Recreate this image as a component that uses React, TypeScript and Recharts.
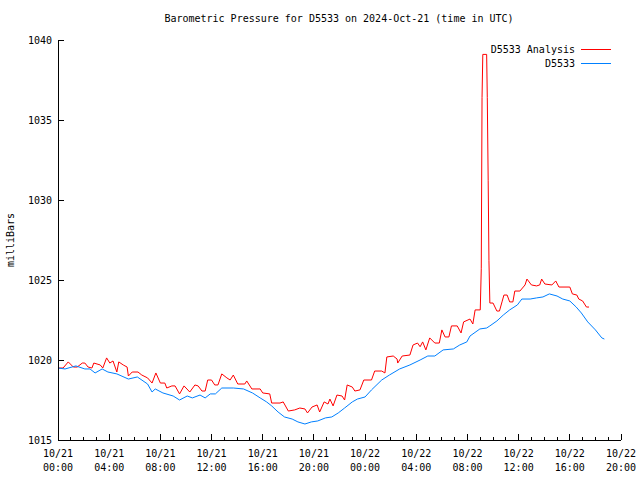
import React from 'react';
import { LineChart, Line, XAxis, YAxis, Legend } from 'recharts';

const title = 'Barometric Pressure for D5533 on 2024-Oct-21 (time in UTC)';
const yLabel = 'milliBars';
const seriesNames = ['D5533 Analysis', 'D5533'];
const seriesColors = ['#ff0000', '#0080ff'];

const yTicks = [1015, 1020, 1025, 1030, 1035, 1040];
const xMajorHours = [0, 4, 8, 12, 16, 20, 24, 28, 32, 36, 40, 44];
const xTickDates = ['10/21', '10/21', '10/21', '10/21', '10/21', '10/21', '10/22', '10/22', '10/22', '10/22', '10/22', '10/22'];
const xTickTimes = ['00:00', '04:00', '08:00', '12:00', '16:00', '20:00', '00:00', '04:00', '08:00', '12:00', '16:00', '20:00'];
const xHourTicks = Array.from({ length: 45 }, (_, i) => i);

// hours since 2024-10-21 00:00 UTC
const analysisHours = [
  0, 0.4, 0.8, 1.2, 1.5, 1.9, 2.1, 2.35, 2.65, 2.8, 3.3, 3.5, 3.8, 4.05, 4.3, 4.6, 4.75, 5.1, 5.4, 5.5,
  5.8, 6.25, 6.55, 7.0, 7.35, 7.65, 8.0, 8.35, 8.5, 8.9, 9.15, 9.5, 9.85, 10.3, 10.7, 10.95, 11.25, 11.5, 11.7, 12.0,
  12.25, 12.5, 12.8, 13.2, 13.45, 13.7, 14.05, 14.6, 14.75, 15.15, 15.8, 16.0, 16.55, 16.7, 17.35, 17.6, 18.0, 18.5, 18.9, 19.3,
  19.5, 19.85, 20.25, 20.45, 20.8, 21.1, 21.25, 21.5, 21.8, 22.2, 22.4, 22.6, 23.0, 23.2, 23.6, 23.9, 24.5, 24.75, 25.3, 25.55,
  25.7, 26.2, 26.5, 26.55, 26.9, 27.5, 27.75, 28.1, 28.3, 28.5, 28.75, 29.05, 29.45, 29.8, 30.0, 30.25, 30.55, 30.75, 31.2, 31.5,
  31.7, 32.2, 32.42, 32.6, 33.0, 33.08, 33.14, 33.2, 33.5, 33.55, 33.62, 33.68, 33.75, 34.0, 34.3, 34.5, 34.7, 34.85, 35.1, 35.3,
  35.55, 35.7, 36.1, 36.5, 36.65, 37.0, 37.4, 37.65, 37.8, 38.05, 38.6, 38.9, 39.15, 40.0, 40.2, 40.55, 40.7, 41.0, 41.3, 41.5,
];
const analysisValues = [
  1019.5, 1019.5, 1019.88, 1019.56, 1019.56, 1019.81, 1019.81, 1019.56, 1019.5, 1019.81, 1019.69, 1019.5, 1020.13, 1019.81, 1019.94, 1019.25, 1019.88, 1019.69, 1019.56, 1019.0,
  1019.25, 1019.25, 1019.06, 1018.88, 1018.56, 1019.19, 1018.56, 1018.56, 1018.25, 1018.38, 1018.38, 1017.88, 1018.38, 1018.0, 1018.44, 1018.38, 1018.06, 1018.06, 1018.75, 1018.75,
  1018.44, 1018.44, 1019.13, 1018.88, 1018.75, 1019.06, 1018.5, 1018.5, 1018.69, 1018.19, 1018.19, 1017.94, 1017.88, 1017.31, 1017.31, 1017.38, 1016.81, 1016.88, 1017.0, 1016.94,
  1016.69, 1017.06, 1017.19, 1016.75, 1017.38, 1017.25, 1017.56, 1017.13, 1017.81, 1017.75, 1017.5, 1018.44, 1018.31, 1018.06, 1018.13, 1018.75, 1018.75, 1019.31, 1019.31, 1019.19,
  1020.19, 1020.25, 1020.06, 1019.81, 1020.25, 1020.31, 1020.94, 1021.06, 1020.83, 1021.13, 1020.63, 1021.38, 1021.06, 1021.06, 1021.88, 1021.44, 1021.44, 1022.13, 1022.13, 1021.69,
  1022.38, 1022.56, 1022.25, 1023.13, 1023.13, 1025.7, 1036.4, 1039.1, 1039.1, 1036.4, 1031.2, 1026.2, 1023.56, 1023.56, 1023.06, 1023.06, 1023.63, 1024.06, 1024.06, 1023.63,
  1023.63, 1024.31, 1024.31, 1024.69, 1025.06, 1024.69, 1024.63, 1024.69, 1025.06, 1024.75, 1024.69, 1024.94, 1024.56, 1024.56, 1024.13, 1024.06, 1023.81, 1023.69, 1023.31, 1023.31,
];

const stationHours = [
  0, 0.55, 1.4, 2.1, 2.5, 2.9, 3.45, 3.9, 4.6, 5.5, 6.2, 7.0, 7.35, 7.6, 8.2, 9.0, 9.5, 10.1, 10.5, 11.1,
  11.5, 11.9, 12.3, 12.8, 13.7, 14.5, 15.2, 15.8, 16.3, 16.7, 17.2, 17.7, 18.3, 18.75, 19.3, 19.8, 20.3, 20.9, 21.4, 21.9,
  22.4, 23.0, 23.4, 24.0, 24.5, 25.3, 25.9, 26.7, 27.5, 28.3, 28.9, 29.45, 30.1, 30.9, 31.4, 31.95, 32.2, 32.97, 33.5, 33.75,
  34.3, 34.8, 35.3, 35.9, 36.25, 36.9, 37.4, 37.9, 38.4, 39.0, 39.45, 40.0, 40.5, 40.9, 41.4, 42.0, 42.5, 42.7,
];
const stationValues = [
  1019.5, 1019.44, 1019.63, 1019.44, 1019.44, 1019.19, 1019.44, 1019.25, 1019.13, 1018.81, 1018.94, 1018.5, 1018.0, 1018.19, 1017.94, 1017.75, 1017.5, 1017.75, 1017.63, 1017.81,
  1017.63, 1017.88, 1017.88, 1018.25, 1018.25, 1018.19, 1017.94, 1017.63, 1017.38, 1017.13, 1016.75, 1016.44, 1016.31, 1016.13, 1016.0, 1016.13, 1016.19, 1016.38, 1016.44, 1016.69,
  1017.0, 1017.38, 1017.56, 1017.69, 1018.13, 1018.75, 1019.06, 1019.44, 1019.69, 1020.0, 1020.25, 1020.25, 1020.63, 1020.69, 1020.94, 1021.13, 1021.5, 1021.94, 1022.0, 1022.13,
  1022.44, 1022.81, 1023.13, 1023.44, 1023.81, 1023.81, 1023.88, 1023.94, 1024.13, 1024.0, 1023.81, 1023.69, 1023.31, 1022.94, 1022.38, 1021.88, 1021.38, 1021.31,
];

const analysisData = analysisHours.map((t, i) => ({ t, v: analysisValues[i] }));
const stationData = stationHours.map((t, i) => ({ t, v: stationValues[i] }));

const FONT = 'DejaVu Sans Mono, Liberation Mono, monospace';
const FS = 10;

const BottomTick = (props: any) => {
  const { x, y, payload } = props;
  const idx = xMajorHours.indexOf(payload.value);
  const major = idx >= 0;
  return (
    <g>
      <line x1={x} x2={x} y1={y} y2={y - (major ? 6 : 3)} stroke="#000" shapeRendering="crispEdges" />
      {major && (
        <text x={x} y={y} textAnchor="middle" fontFamily={FONT} fontSize={FS} fill="#000">
          <tspan x={x} dy={17}>{xTickDates[idx]}</tspan>
          <tspan x={x} dy={14}>{xTickTimes[idx]}</tspan>
        </text>
      )}
    </g>
  );
};

const TopTick = (props: any) => {
  const { x, y, payload } = props;
  const major = xMajorHours.indexOf(payload.value) >= 0;
  return <line x1={x} x2={x} y1={y} y2={y + (major ? 6 : 3)} stroke="#000" shapeRendering="crispEdges" />;
};

const LeftTick = (props: any) => {
  const { x, y, payload } = props;
  return (
    <g>
      <line x1={x} x2={x + 6} y1={y} y2={y} stroke="#000" shapeRendering="crispEdges" />
      <text x={x - 6} y={y + 4} textAnchor="end" fontFamily={FONT} fontSize={FS} fill="#000">
        {payload.value}
      </text>
    </g>
  );
};

const RightTick = (props: any) => {
  const { x, y } = props;
  return <line x1={x} x2={x - 6} y1={y} y2={y} stroke="#000" shapeRendering="crispEdges" />;
};

const LegendContent = () => (
  <svg width={200} height={30} style={{ display: 'block' }}>
    {seriesNames.map((name, i) => (
      <g key={name}>
        <text x={155} y={11 + i * 14} textAnchor="end" fontFamily={FONT} fontSize={FS} fill="#000">
          {name}
        </text>
        <rect x={161} y={7 + i * 14} width={30} height={1} fill={seriesColors[i]} />
      </g>
    ))}
  </svg>
);

export default function App() {
  return (
    <div style={{ position: 'absolute', left: 0, top: 0, width: 640, height: 480, background: '#fff' }}>
      <div
        style={{
          position: 'absolute', left: 0, top: 13, width: 678, textAlign: 'center',
          fontFamily: FONT, fontSize: FS, color: '#000', whiteSpace: 'pre',
        }}
      >
        {title}
      </div>
      <LineChart width={640} height={480} margin={{ top: 40, right: 19, bottom: 0, left: 8 }}>
        <XAxis
          xAxisId="bottom"
          dataKey="t"
          type="number"
          domain={[0, 44]}
          ticks={xHourTicks}
          interval={0}
          allowDataOverflow
          height={40}
          tickSize={0}
          tickMargin={0}
          tickLine={false}
          axisLine={{ stroke: '#000', shapeRendering: 'crispEdges' }}
          tick={<BottomTick />}
        />
        <XAxis
          xAxisId="top"
          orientation="top"
          dataKey="t"
          type="number"
          domain={[0, 44]}
          ticks={xHourTicks}
          interval={0}
          allowDataOverflow
          height={0}
          tickSize={0}
          tickMargin={0}
          tickLine={false}
          axisLine={{ stroke: '#000', shapeRendering: 'crispEdges' }}
          tick={<TopTick />}
        />
        <YAxis
          yAxisId="left"
          domain={[1015, 1040]}
          ticks={yTicks}
          interval={0}
          allowDataOverflow
          width={50}
          tickSize={0}
          tickMargin={0}
          tickLine={false}
          axisLine={{ stroke: '#000', shapeRendering: 'crispEdges' }}
          tick={<LeftTick />}
          label={{ value: yLabel, angle: -90, position: 'insideLeft', offset: 0, dx: 2, style: { fontFamily: FONT, fontSize: FS, fill: '#000', textAnchor: 'middle' } }}
        />
        <YAxis
          yAxisId="right"
          orientation="right"
          domain={[1015, 1040]}
          ticks={yTicks}
          interval={0}
          allowDataOverflow
          width={0}
          tickSize={0}
          tickMargin={0}
          tickLine={false}
          axisLine={{ stroke: '#000', shapeRendering: 'crispEdges' }}
          tick={<RightTick />}
        />
        <Legend
          layout="horizontal"
          verticalAlign="middle"
          content={<LegendContent />}
          wrapperStyle={{ position: 'absolute', left: 420, top: 42, width: 200, height: 30 }}
        />
        <Line
          xAxisId="bottom"
          yAxisId="left"
          data={analysisData}
          dataKey="v"
          name={seriesNames[0]}
          stroke={seriesColors[0]}
          strokeWidth={1}
          dot={false}
          type="linear"
          isAnimationActive={false}
        />
        <Line
          xAxisId="bottom"
          yAxisId="left"
          data={stationData}
          dataKey="v"
          name={seriesNames[1]}
          stroke={seriesColors[1]}
          strokeWidth={1}
          dot={false}
          type="linear"
          isAnimationActive={false}
        />
      </LineChart>
    </div>
  );
}
